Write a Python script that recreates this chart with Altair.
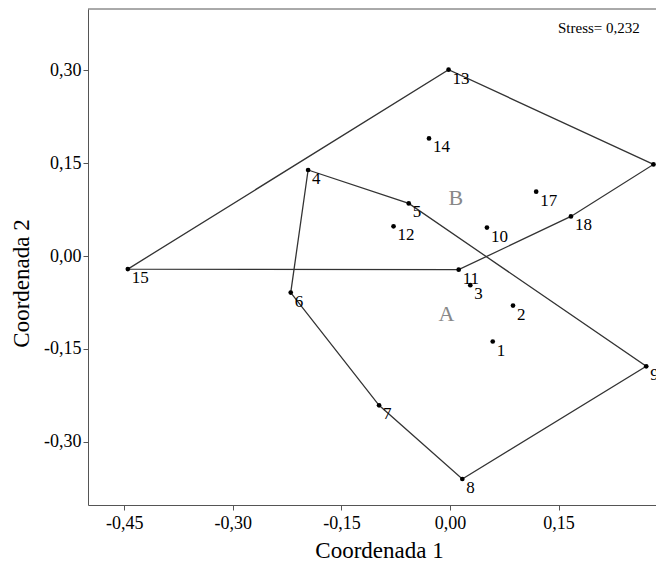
import altair as alt
import pandas as pd

# ---- data ----
ids = [str(i) for i in range(1, 19)]
coord1 = [0.059, 0.087, 0.028, -0.196, -0.057, -0.220, -0.098, 0.017, 0.271,
          0.051, 0.012, -0.078, -0.002, -0.029, -0.445, 0.281, 0.119, 0.167]
coord2 = [-0.138, -0.080, -0.047, 0.139, 0.085, -0.059, -0.241, -0.360, -0.178,
          0.046, -0.022, 0.048, 0.301, 0.190, -0.021, 0.148, 0.104, 0.064]
poly_a = [4, 5, 9, 8, 7, 6, 4]
poly_b = [15, 13, 16, 18, 11, 15]
group_labels = ["A", "B"]
group_x = [-0.005, 0.008]
group_y = [-0.094, 0.093]
x_ticks = [-0.45, -0.30, -0.15, 0.0, 0.15]
y_ticks = [-0.30, -0.15, 0.0, 0.15, 0.30]
stress_text = "Stress= 0,232"

pts = pd.DataFrame({"id": ids, "x": coord1, "y": coord2})
rows = []
for gname, poly in (("A", poly_a), ("B", poly_b)):
    for k, p in enumerate(poly):
        rows.append({"g": gname, "o": k, "x": coord1[p - 1], "y": coord2[p - 1]})
lines = pd.DataFrame(rows)
grp = pd.DataFrame({"t": group_labels, "x": group_x, "y": group_y})

FONT = "Liberation Serif"
AX = "#555555"
label_expr = "replace(replace(format(datum.value, '.2f'), '.', ','), '\u2212', '-')"

W = 568
H = 496
xs = alt.Scale(domain=[-0.5, 0.2845], nice=False, zero=False)
ys = alt.Scale(domain=[-0.402, 0.399], nice=False, zero=False)

xenc = alt.X("x:Q", scale=xs, axis=alt.Axis(
    values=x_ticks, labelExpr=label_expr, grid=False, tickSize=5,
    domainColor=AX, tickColor=AX, labelColor="black", labelFont=FONT,
    labelFontSize=18, labelPadding=4, title="Coordenada 1", titleFont=FONT,
    titleFontSize=23, titleFontWeight="normal", titleColor="black",
    titleX=291, titleY=52, titleBaseline="alphabetic"))
yenc = alt.Y("y:Q", scale=ys, axis=alt.Axis(
    values=y_ticks, labelExpr=label_expr, grid=False, tickSize=5,
    domainColor=AX, tickColor=AX, labelColor="black", labelFont=FONT,
    labelFontSize=18, labelPadding=2, title="Coordenada 2", titleFont=FONT,
    titleFontSize=23, titleFontWeight="normal", titleColor="black",
    titleAngle=270, titleX=-60, titleY=274, titleBaseline="alphabetic",
    titleAlign="center"))

line_layer = alt.Chart(lines).mark_line(color="#333333", strokeWidth=1.3).encode(
    x=xenc, y=yenc, order="o:Q", detail="g:N")
pt_layer = alt.Chart(pts).mark_point(filled=True, color="black", size=22, opacity=1).encode(
    x="x:Q", y="y:Q")
lab_layer = alt.Chart(pts).mark_text(align="left", baseline="middle", dx=4, dy=9,
                                     font=FONT, fontSize=17, color="black").encode(
    x="x:Q", y="y:Q", text="id:N")
grp_layer = alt.Chart(grp).mark_text(align="center", baseline="middle", font=FONT,
                                     fontSize=22, color="#888888").encode(
    x="x:Q", y="y:Q", text="t:N")
stress = alt.Chart(pd.DataFrame({"t": [stress_text]})).mark_text(
    align="left", baseline="middle", font=FONT, fontSize=15, color="black").encode(
    x=alt.value(470), y=alt.value(19), text="t:N")
top_rule = alt.Chart(pd.DataFrame({"a": [0]})).mark_rule(color=AX, strokeWidth=1).encode(
    x=alt.value(0), x2=alt.value(W), y=alt.value(0))

chart = alt.layer(line_layer, pt_layer, lab_layer, grp_layer, stress, top_rule).properties(
    width=W, height=H,
    autosize=alt.AutoSizeParams(type="none"),
    padding={"left": 80, "top": 1, "right": 0, "bottom": 56},
    background="white",
).configure_view(stroke=None)

chart.save("out.html", embed_options={"renderer": "svg", "actions": False})
